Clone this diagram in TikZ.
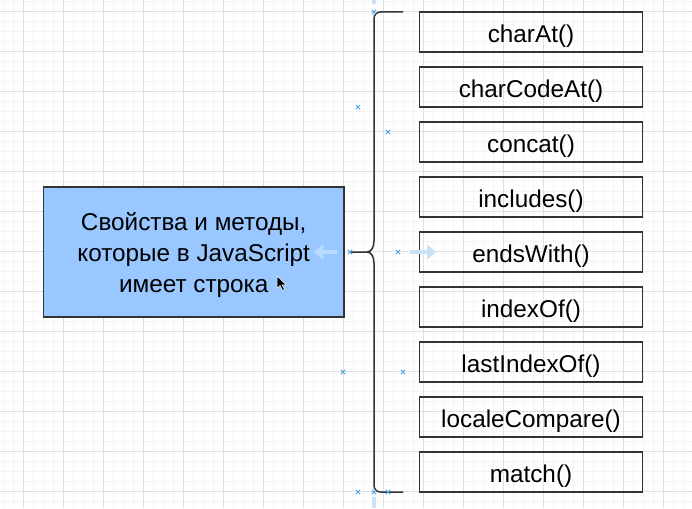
\documentclass[tikz,border=0pt]{standalone}
\usepackage{fontspec}
\setmainfont{Liberation Sans}
\usetikzlibrary{arrows.meta}
\definecolor{gridminor}{HTML}{F4F4F4}
\definecolor{gridmajor}{HTML}{E0E0E0}
\definecolor{boxblue}{HTML}{99C7FF}
\definecolor{markblue}{HTML}{4AA3DF}
\definecolor{ghost}{HTML}{C9E2F8}
\definecolor{ghostin}{HTML}{B9DBFF}
\definecolor{edge}{HTML}{333333}
\newcommand{\mtext}[1]{\raisebox{-4pt}[\height][\depth]{#1}}
\tikzset{
  method/.style={draw=edge, line width=1.2, minimum width=223.4, minimum height=40, inner sep=0,
    font=\fontsize{24.3}{28}\selectfont},
  mainbox/.style={draw=edge, line width=1.2, fill=boxblue, minimum width=300.7, minimum height=130,
    inner sep=0, font=\fontsize{24.3}{31}\selectfont},
  bracepath/.style={draw=edge, line width=1.5},
  xmark/.style={draw=markblue, line width=0.9},
  ghostarrow/.style={line width=4.5, -{Triangle[length=9,width=15]}}
}
\begin{document}
\begin{tikzpicture}[x=1pt,y=-1pt]
\useasboundingbox (0,0) rectangle (692,508);
\fill[white] (0,0) rectangle (692,508);
% grid
\foreach \x in {3,13,...,693} \draw[gridminor, line width=1] (\x,0) -- (\x,508);
\foreach \y in {1.5,11.5,...,508} \draw[gridminor, line width=1] (0,\y) -- (692,\y);
\foreach \x in {23,63,...,663} \draw[gridmajor, line width=1] (\x,0) -- (\x,508);
\foreach \y in {11.5,51.5,...,491.5} \draw[gridmajor, line width=1] (0,\y) -- (692,\y);

% main box
\node[mainbox] (main) at (193.7,252) {\raisebox{-3.5pt}[\height][\depth]{\begin{tabular}{@{}c@{}}Свойства и методы,\\которые в JavaScript\\имеет строка\end{tabular}}};

% methods
\node[method] (m1) at (531,32) {\mtext{charAt()}};
\node[method] (m2) at (531,87) {\mtext{charCodeAt()}};
\node[method] (m3) at (531,142) {\mtext{concat()}};
\node[method] (m4) at (531,197) {\mtext{includes()}};
\node[method] (m5) at (531,252) {\mtext{endsWith()}};
\node[method] (m6) at (531,307) {\mtext{indexOf()}};
\node[method] (m7) at (531,362) {\mtext{lastIndexOf()}};
\node[method] (m8) at (531,417) {\mtext{localeCompare()}};
\node[method] (m9) at (531,472) {\mtext{match()}};

% brace
\coordinate (bt) at (403,12);
\coordinate (bb) at (403,492);
\coordinate (tip) at (350,252);
\coordinate (mid) at (367,252);
\draw[bracepath] (bt) -- (381,12) .. controls (376.5,12) and (374,14.5) .. (374,19)
  -- (374,241) .. controls (374,247.5) and (371,252) .. (mid) -- (tip);
\draw[bracepath] (mid) .. controls (371,252) and (374,256.5) .. (374,263)
  -- (374,485) .. controls (374,489.5) and (376.5,492) .. (381,492) -- (bb);

% guide and ghost arrows
\fill[ghost] (372,0) rectangle (376,4);
\fill[ghost] (372,497) rectangle (376,508);
\draw[ghostarrow, ghost] (410,252) -- (436,252);
\draw[ghostarrow, ghostin] (337,252) -- (314,252);

% x marks
\foreach \p in {(374,12),(358,107),(388,132),(350,252),(398,252),(343,372),(403,372),(358,492),(374,492),(388,492)}
  \draw[xmark] \p +(-2.2,-2.2) -- +(2.2,2.2) \p +(-2.2,2.2) -- +(2.2,-2.2);

% cursor
\filldraw[fill=black, draw=white, line width=0.5] (277,276) -- (277,288.5) -- (280,285.5) -- (282.5,290.5) -- (284.5,289.5) -- (282,284.8) -- (286.2,284.8) -- cycle;
\end{tikzpicture}
\end{document}
